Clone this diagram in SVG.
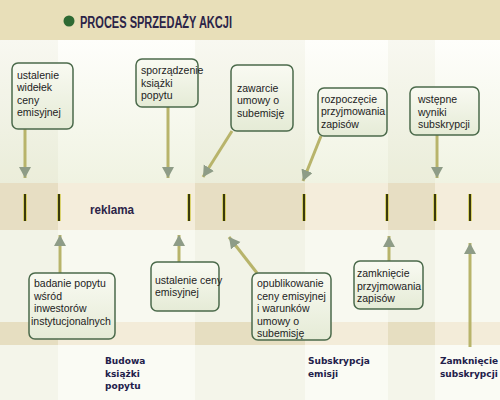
<svg xmlns="http://www.w3.org/2000/svg" width="500" height="400" viewBox="0 0 500 400">
<defs>
<linearGradient id="topg" x1="0" y1="0" x2="0" y2="1">
<stop offset="0" stop-color="#fefefb"/>
<stop offset="1" stop-color="#f0f3e2"/>
</linearGradient>
<linearGradient id="boxg" x1="0" y1="0" x2="0" y2="1">
<stop offset="0" stop-color="#f9faf2"/>
<stop offset="1" stop-color="#e5ebd6"/>
</linearGradient>
<marker id="ah" markerUnits="userSpaceOnUse" markerWidth="13" markerHeight="13" refX="11" refY="6" orient="auto">
<path d="M0,0 L11,6 L0,12 z" fill="#8e9c87"/>
</marker>
<style>
.box{fill:url(#boxg);stroke:#4b6a4b;stroke-width:1.5}
.bt{font-family:"Liberation Sans",Arial,sans-serif;font-size:10.5px;fill:#222222}
.lbl{font-family:"DejaVu Sans",Verdana,sans-serif;font-size:9px;font-weight:bold;fill:#22204a}
.arr{stroke:#b8b46b;stroke-width:3;fill:none;marker-end:url(#ah)}
.tick{stroke:#d2c84a;stroke-width:3.5}
.tickc{stroke:#3a3a0c;stroke-width:2}
.col{fill:#a8a870;opacity:0.07}
.colb{fill:#b8a050;opacity:0.12}
</style>
</defs>
<!-- background -->
<rect x="0" y="0" width="500" height="400" fill="#f9faf3"/>
<rect x="0" y="40" width="500" height="143" fill="url(#topg)"/>
<rect x="0" y="183" width="500" height="47" fill="#f4eddb"/>
<rect x="0" y="230" width="500" height="92" fill="#f8f9f0"/>
<rect x="0" y="322" width="500" height="23" fill="#f3ecd9"/>
<rect x="0" y="345" width="500" height="55" fill="#fafbf4"/>
<rect class="col" x="0" y="40" width="58" height="360"/>
<rect class="col" x="195" y="40" width="110" height="360"/>
<rect class="col" x="388" y="40" width="47" height="360"/>
<rect class="colb" x="0" y="183" width="58" height="47"/>
<rect class="colb" x="195" y="183" width="110" height="47"/>
<rect class="colb" x="388" y="183" width="47" height="47"/>
<rect class="colb" x="0" y="322" width="58" height="23"/>
<rect class="colb" x="195" y="322" width="110" height="23"/>
<rect class="colb" x="388" y="322" width="47" height="23"/>
<rect x="0" y="0" width="500" height="40" fill="#e8dfb9"/>
<!-- title -->
<g id="title">
<circle cx="69" cy="21" r="5.5" fill="#2e6a33"/>
<text x="80" y="28" font-family="Liberation Sans,Arial,sans-serif" font-size="16" font-weight="bold" fill="#2b2448" textLength="152" lengthAdjust="spacingAndGlyphs">PROCES SPRZEDAŻY AKCJI</text>
</g>
<!-- timeline -->
<g id="timeline">
<text x="90" y="214" font-family="Liberation Sans,Arial,sans-serif" font-size="13.5" font-weight="bold" fill="#2b2448" textLength="44" lengthAdjust="spacingAndGlyphs">reklama</text>
<g class="tick">
<line x1="25" y1="194" x2="25" y2="221"/><line x1="59" y1="194" x2="59" y2="221"/>
<line x1="189" y1="194" x2="189" y2="221"/><line x1="224" y1="194" x2="224" y2="221"/>
<line x1="304" y1="194" x2="304" y2="221"/><line x1="387" y1="194" x2="387" y2="221"/>
<line x1="435" y1="194" x2="435" y2="221"/><line x1="470" y1="194" x2="470" y2="221"/>
</g>
<g class="tickc">
<line x1="25" y1="194" x2="25" y2="221"/><line x1="59" y1="194" x2="59" y2="221"/>
<line x1="189" y1="194" x2="189" y2="221"/><line x1="224" y1="194" x2="224" y2="221"/>
<line x1="304" y1="194" x2="304" y2="221"/><line x1="387" y1="194" x2="387" y2="221"/>
<line x1="435" y1="194" x2="435" y2="221"/><line x1="470" y1="194" x2="470" y2="221"/>
</g>
</g>
<!-- connectors -->
<g id="connectors">
<path class="arr" d="M25,129 L25,178"/>
<path class="arr" d="M168,107 L168,178"/>
<path class="arr" d="M232,131 L203,177"/>
<path class="arr" d="M321,136 L303,181"/>
<path class="arr" d="M437,135 L437,178"/>
<path class="arr" d="M60,273 L60,235"/>
<path class="arr" d="M179,262 L179,235"/>
<path class="arr" d="M257,273 L229,237"/>
<path class="arr" d="M389,261 L389,236"/>
<path class="arr" d="M470,347 L470,243"/>
</g>
<!-- top boxes -->
<g id="n1"><rect class="box" x="12" y="63" width="61" height="66" rx="6"/>
<text class="bt" x="17" y="78.5">ustalenie</text><text class="bt" x="17" y="91">widełek</text><text class="bt" x="17" y="103.5">ceny</text><text class="bt" x="17" y="116">emisyjnej</text></g>
<g id="n2"><rect class="box" x="136" y="59" width="62" height="48" rx="6"/>
<text class="bt" x="141" y="74">sporządzenie</text><text class="bt" x="141" y="86.5">książki</text><text class="bt" x="141" y="99">popytu</text></g>
<g id="n3"><rect class="box" x="231" y="65" width="62" height="66" rx="6"/>
<text class="bt" x="237" y="92">zawarcie</text><text class="bt" x="237" y="104">umowy o</text><text class="bt" x="237" y="116.5">subemisję</text></g>
<g id="n4"><rect class="box" x="318" y="88" width="69" height="48" rx="6"/>
<text class="bt" x="321" y="103">rozpoczęcie</text><text class="bt" x="321" y="115">przyjmowania</text><text class="bt" x="321" y="127.5">zapisów</text></g>
<g id="n5"><rect class="box" x="410" y="87" width="69" height="48" rx="6"/>
<text class="bt" x="418" y="103">wstępne</text><text class="bt" x="418" y="115.5">wyniki</text><text class="bt" x="418" y="128">subskrypcji</text></g>
<!-- bottom boxes -->
<g id="n6"><rect class="box" x="29" y="273" width="86" height="66" rx="6"/>
<text class="bt" x="34" y="287">badanie popytu</text><text class="bt" x="34" y="299.5">wśród</text><text class="bt" x="34" y="312">inwestorów</text><text class="bt" x="31" y="324.5">instytucjonalnych</text></g>
<g id="n7"><rect class="box" x="151" y="262" width="68" height="49" rx="6"/>
<text class="bt" x="155" y="283.5">ustalenie ceny</text><text class="bt" x="155" y="296">emisyjnej</text></g>
<g id="n8"><rect class="box" x="252" y="273" width="79" height="67" rx="6"/>
<text class="bt" x="257" y="287">opublikowanie</text><text class="bt" x="257" y="299.5">ceny emisyjnej</text><text class="bt" x="257" y="312">i warunków</text><text class="bt" x="257" y="324.5">umowy o</text><text class="bt" x="257" y="336.5">subemisję</text></g>
<g id="n9"><rect class="box" x="354" y="261" width="69" height="48" rx="6"/>
<text class="bt" x="357" y="277">zamknięcie</text><text class="bt" x="357" y="289.5">przyjmowania</text><text class="bt" x="357" y="302">zapisów</text></g>
<!-- phase labels -->
<g id="phase1"><text class="lbl" x="105" y="364">Budowa</text><text class="lbl" x="105" y="376.5">książki</text><text class="lbl" x="105" y="389">popytu</text></g>
<g id="phase2"><text class="lbl" x="308" y="364">Subskrypcja</text><text class="lbl" x="308" y="376.5">emisji</text></g>
<g id="phase3"><text class="lbl" x="440" y="364">Zamknięcie</text><text class="lbl" x="440" y="376.5">subskrypcji</text></g>
</svg>
